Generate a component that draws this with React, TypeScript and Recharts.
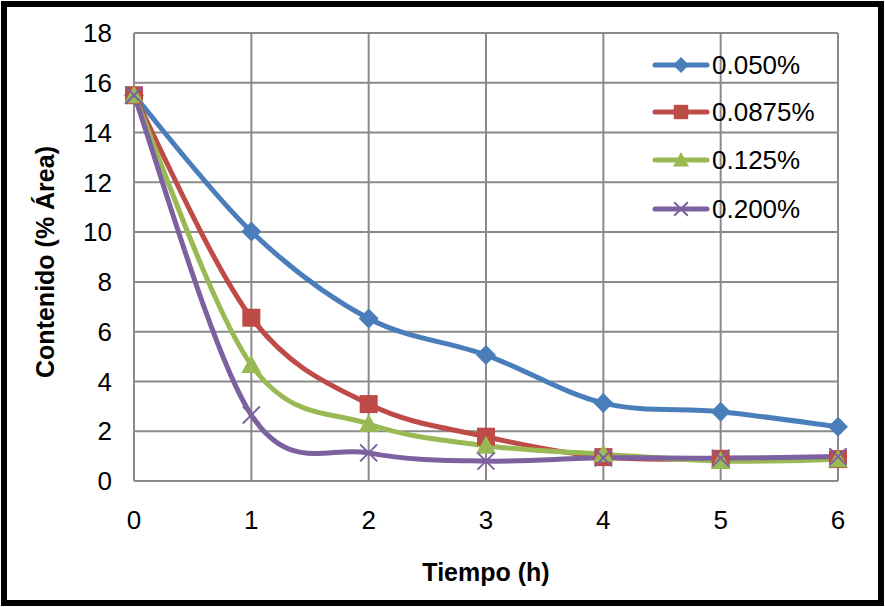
import React from 'react';
import { LineChart, Line, XAxis, YAxis, CartesianGrid } from 'recharts';

const hours = [0, 1, 2, 3, 4, 5, 6];
const conc050 = [15.5, 10.02, 6.53, 5.06, 3.13, 2.78, 2.18];
const conc0875 = [15.5, 6.56, 3.09, 1.78, 0.96, 0.89, 0.88];
const conc125 = [15.5, 4.66, 2.29, 1.42, 1.08, 0.8, 0.87];
const conc200 = [15.5, 2.65, 1.13, 0.8, 0.93, 0.92, 0.98];
const yTicks = [0, 2, 4, 6, 8, 10, 12, 14, 16, 18];

const series = [
  { key: 'c050', name: '0.050%', color: '#4A7EBB', shape: 'diamond', values: conc050 },
  { key: 'c0875', name: '0.0875%', color: '#BE4B48', shape: 'square', values: conc0875 },
  { key: 'c125', name: '0.125%', color: '#98B954', shape: 'triangle', values: conc125 },
  { key: 'c200', name: '0.200%', color: '#7D60A0', shape: 'cross', values: conc200 },
];

const data = hours.map((h, i) => {
  const row: any = { h };
  series.forEach((s) => (row[s.key] = s.values[i]));
  return row;
});

const FONT = '"Liberation Sans", Arial, sans-serif';

// Excel-style smoothed line (Catmull-Rom, tension 1/6)
const excelCurve = (context: any) => {
  let pts: number[][] = [];
  return {
    areaStart() {},
    areaEnd() {},
    lineStart() {
      pts = [];
    },
    lineEnd() {
      if (!pts.length) return;
      context.moveTo(pts[0][0], pts[0][1]);
      for (let i = 0; i < pts.length - 1; i++) {
        const p0 = pts[Math.max(i - 1, 0)];
        const p1 = pts[i];
        const p2 = pts[i + 1];
        const p3 = pts[Math.min(i + 2, pts.length - 1)];
        context.bezierCurveTo(
          p1[0] + (p2[0] - p0[0]) / 6,
          p1[1] + (p2[1] - p0[1]) / 6,
          p2[0] - (p3[0] - p1[0]) / 6,
          p2[1] - (p3[1] - p1[1]) / 6,
          p2[0],
          p2[1]
        );
      }
    },
    point(x: number, y: number) {
      pts.push([+x, +y]);
    },
  };
};

const Marker = ({ x, y, shape, color, size }: any) => {
  const r = size / 2;
  switch (shape) {
    case 'diamond':
      return <polygon points={`${x},${y - r} ${x + r},${y} ${x},${y + r} ${x - r},${y}`} fill={color} />;
    case 'square':
      return <rect x={x - r * 0.9} y={y - r * 0.9} width={r * 1.8} height={r * 1.8} fill={color} />;
    case 'triangle':
      return <polygon points={`${x},${y - r} ${x + r},${y + r * 0.8} ${x - r},${y + r * 0.8}`} fill={color} />;
    default:
      return (
        <g stroke={color} strokeWidth={2}>
          <line x1={x - r * 0.85} y1={y - r * 0.85} x2={x + r * 0.85} y2={y + r * 0.85} />
          <line x1={x - r * 0.85} y1={y + r * 0.85} x2={x + r * 0.85} y2={y - r * 0.85} />
        </g>
      );
  }
};

const makeDot = (shape: string, color: string) => (props: any) => {
  const { cx, cy, index } = props;
  return (
    <g key={`${shape}-${index}`}>
      <Marker x={cx} y={cy} shape={shape} color={color} size={20} />
    </g>
  );
};

const legendRows = [65, 112, 160, 209];

const App = () => {
  return (
    <div style={{ position: 'absolute', left: 0, top: 0, width: 885, height: 607, background: '#fff' }}>
      <LineChart width={885} height={607} data={data} margin={{ top: 33, right: 47, left: 0, bottom: 0 }}>
        <CartesianGrid stroke="#8a8a8a" strokeWidth={2} />
        <XAxis
          dataKey="h"
          type="number"
          domain={[0, 6]}
          ticks={hours}
          axisLine={false}
          tickLine={false}
          tickSize={0}
          tickMargin={30}
          height={126}
          tick={{ fill: '#000', fontSize: 26, fontFamily: FONT }}
          label={{
            content: () => (
              <text x={486} y={572} textAnchor="middle" dominantBaseline="central" fontFamily={FONT} fontSize={25} fontWeight="bold" fill="#000">
                Tiempo (h)
              </text>
            ),
          }}
        />
        <YAxis
          type="number"
          domain={[0, 18]}
          ticks={yTicks}
          axisLine={false}
          tickLine={false}
          tickSize={0}
          tickMargin={22}
          width={134}
          tick={{ fill: '#000', fontSize: 26, fontFamily: FONT }}
          label={{
            content: () => (
              <text x={45} y={262} transform="rotate(-90 45 262)" textAnchor="middle" dominantBaseline="central" fontFamily={FONT} fontSize={25} fontWeight="bold" fill="#000">
                Contenido (% Área)
              </text>
            ),
          }}
        />
        {series.map((s) => (
          <Line
            key={s.key}
            type={excelCurve as any}
            dataKey={s.key}
            name={s.name}
            stroke={s.color}
            strokeWidth={5}
            dot={makeDot(s.shape, s.color)}
            activeDot={false}
            isAnimationActive={false}
          />
        ))}
      </LineChart>
      <svg width={885} height={607} style={{ position: 'absolute', left: 0, top: 0, pointerEvents: 'none' }}>
        {series.map((s, i) => (
          <g key={s.key}>
            <line x1={655} x2={707} y1={legendRows[i]} y2={legendRows[i]} stroke={s.color} strokeWidth={5} strokeLinecap="round" />
            <Marker x={681} y={legendRows[i]} shape={s.shape} color={s.color} size={16} />
            <text x={712} y={legendRows[i]} dominantBaseline="central" fontFamily={FONT} fontSize={26} fill="#000">
              {s.name}
            </text>
          </g>
        ))}
        <rect x={4} y={4} width={877} height={599} fill="none" stroke="#000" strokeWidth={6} />
      </svg>
    </div>
  );
};

export default App;
